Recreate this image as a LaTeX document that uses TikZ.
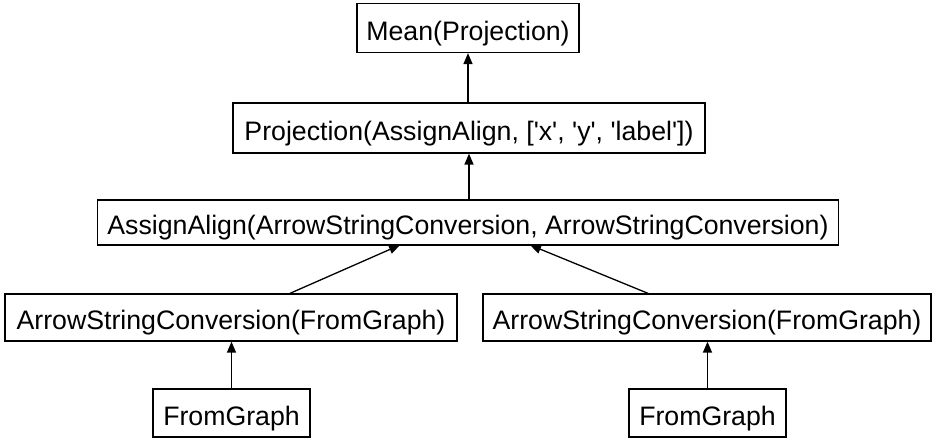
\documentclass[tikz,border=0pt]{standalone}
\usepackage{fontspec}
\setmainfont{Liberation Sans}
\usetikzlibrary{arrows.meta}
\begin{document}
\begin{tikzpicture}[x=1pt,y=-1pt,
  box/.style={draw,line width=1.3pt,inner sep=0pt,text height=30pt,text depth=5pt,font=\fontsize{26.7}{32}\selectfont,anchor=center},
  edge/.style={line width=1.3pt,-{Triangle[length=11pt,width=9pt]}}]
\useasboundingbox (0,0) rectangle (938,443);
\node[box,minimum width=222,minimum height=49] (mean) at (468,28) {Mean(Projection)};
\node[box,minimum width=472,minimum height=50] (proj) at (469,128) {Projection(AssignAlign, [\textquotesingle x\textquotesingle, \textquotesingle y\textquotesingle, \textquotesingle label\textquotesingle])};
\node[box,minimum width=741,minimum height=45] (aa) at (468,222.5) {AssignAlign(ArrowStringConversion, ArrowStringConversion)};
\node[box,minimum width=452,minimum height=47] (asc1) at (231,317.5) {ArrowStringConversion(FromGraph)};
\node[box,minimum width=448,minimum height=47] (asc2) at (707,317.5) {ArrowStringConversion(FromGraph)};
\node[box,minimum width=157,minimum height=48] (fg1) at (231.5,413) {FromGraph};
\node[box,minimum width=157,minimum height=48] (fg2) at (707.5,413) {FromGraph};
\coordinate (a1) at (400,245);
\coordinate (a2) at (530,245);
\draw[edge] (proj.north -| mean) -- (mean.south);
\draw[edge] (aa.north -| proj) -- (proj.south);
\draw[edge] (asc1.north -| 290,0) -- (a1);
\draw[edge] (asc2.north -| 648,0) -- (a2);
\draw[edge] (fg1.north) -- (asc1.south -| fg1);
\draw[edge] (fg2.north) -- (asc2.south -| fg2);
\end{tikzpicture}
\end{document}
